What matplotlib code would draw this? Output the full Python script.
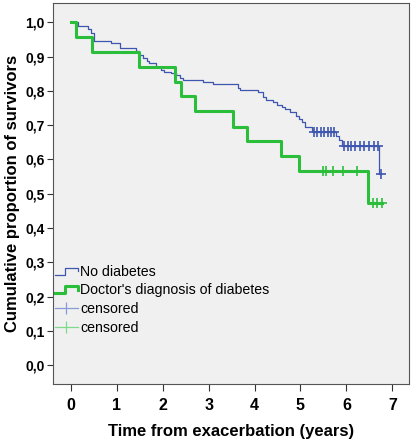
import matplotlib
matplotlib.use("Agg")
import matplotlib.pyplot as plt
from matplotlib.lines import Line2D
from matplotlib.legend_handler import HandlerBase
import numpy as np

plt.rcParams['font.family'] = ['Liberation Sans', 'DejaVu Sans']

# Kaplan-Meier steps
nodiab_t = [0.0, 0.16, 0.38, 0.45, 0.50, 0.88, 1.08, 1.42, 1.49, 1.58, 1.65, 1.70,
            1.86, 1.97, 2.04, 2.19, 2.30, 2.37, 2.44, 2.88, 3.10, 3.64, 3.69, 4.08,
            4.19, 4.25, 4.40, 4.48, 4.59, 4.67, 4.78, 4.91, 4.96, 5.03, 5.10, 5.25,
            5.28, 5.77, 5.84, 5.91, 6.72]
nodiab_s = [1.0, 0.989, 0.979, 0.968, 0.946, 0.940, 0.924, 0.915, 0.905, 0.895, 0.886, 0.880,
            0.871, 0.861, 0.856, 0.851, 0.845, 0.837, 0.831, 0.826, 0.819, 0.807, 0.802, 0.797,
            0.782, 0.772, 0.767, 0.760, 0.753, 0.746, 0.738, 0.728, 0.719, 0.709, 0.694, 0.685,
            0.679, 0.667, 0.657, 0.639, 0.558]
nodiab_cens = [5.30, 5.37, 5.44, 5.52, 5.59, 5.66, 5.73, 5.95, 6.04, 6.11, 6.19,
               6.30, 6.38, 6.50, 6.60, 6.69, 6.75]

diab_t = [0.0, 0.11, 0.47, 1.48, 2.26, 2.41, 2.70, 3.54, 3.84, 4.57, 4.97, 6.48]
diab_s = [1.0, 0.958, 0.914, 0.871, 0.827, 0.784, 0.740, 0.696, 0.653, 0.609, 0.566, 0.472]
diab_cens = [5.50, 5.56, 5.70, 5.93, 6.24, 6.57, 6.66, 6.77]

blue = '#3F56B0'
green = '#2BBE3A'
blue_l = '#8A9AD6'
green_l = '#7FD98A'


class StepHandler(HandlerBase):
    def create_artists(self, legend, orig_handle, xdescent, ydescent,
                       width, height, fontsize, trans):
        x0 = -xdescent
        xs = [x0, x0 + 0.45 * width, x0 + 0.45 * width, x0 + width, x0 + width]
        ys = [0.1 * height, 0.1 * height, 0.8 * height, 0.8 * height, 0.45 * height]
        ln = Line2D(xs, ys, color=orig_handle.get_color(),
                    lw=orig_handle.get_linewidth(), transform=trans)
        return [ln]


def km(ax, t, s, cens, color, lw):
    t_end = max(cens)
    ax.step(t + [t_end], s + [s[-1]], where='post', color=color, lw=lw)
    idx = np.searchsorted(t, cens, side='right') - 1
    cy = np.array(s)[idx]
    ax.plot(cens, cy, ls='none', marker='+', ms=7, mew=1.2, color=color)


fig = plt.figure(figsize=(4.13, 4.40), dpi=100)
ax = fig.add_axes([0.128, 0.127, 0.862, 0.866])
ax.set_facecolor('#F0F0F0')

km(ax, nodiab_t, nodiab_s, nodiab_cens, blue, 0.9)
km(ax, diab_t, diab_s, diab_cens, green, 2.2)

ax.set_xlim(-0.39, 7.36)
ax.set_ylim(-0.055, 1.056)
ax.set_xticks(range(8))
ax.set_yticks(np.arange(0, 1.01, 0.1))
ax.set_yticklabels([f"{v:.1f}".replace('.', ',') for v in np.arange(0, 1.01, 0.1)])
for lab in ax.get_xticklabels() + ax.get_yticklabels():
    lab.set_fontweight('bold')
ax.tick_params(axis='x', labelsize=11.5, length=5, color='#333333', pad=5)
ax.tick_params(axis='y', labelsize=10, length=4, color='#333333', pad=2)
for sp in ax.spines.values():
    sp.set_color('#555555')
    sp.set_linewidth(0.8)

ax.set_xlabel('Time from exacerbation (years)', fontsize=12, fontweight='bold', labelpad=8)
ax.set_ylabel('Cumulative proportion of survivors', fontsize=12, fontweight='bold', labelpad=4)

h1 = Line2D([], [], color=blue, lw=0.9)
h2 = Line2D([], [], color=green, lw=2.2)
h3 = Line2D([], [], color=blue_l, lw=0.9, marker='|', ms=9, mew=0.9)
h4 = Line2D([], [], color=green_l, lw=0.9, marker='|', ms=9, mew=0.9)
ax.legend([h1, h2, h3, h4],
          ['No diabetes', "Doctor's diagnosis of diabetes", 'censored', 'censored'],
          handler_map={h1: StepHandler(), h2: StepHandler()},
          loc='lower left', bbox_to_anchor=(-0.01, 0.115), frameon=False,
          fontsize=10.2, handlelength=1.6, handletextpad=0.2, labelspacing=0.33,
          borderaxespad=0)

fig.savefig('out.png', dpi=100)
